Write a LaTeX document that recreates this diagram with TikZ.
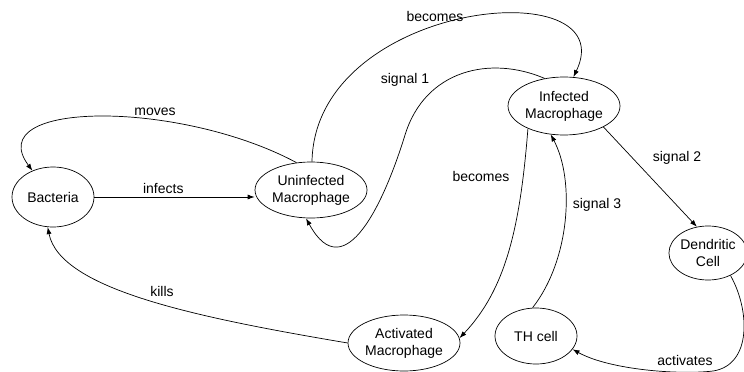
\documentclass[tikz,border=0pt]{standalone}
\usepackage{fontspec}
\setmainfont{Liberation Sans}
\usetikzlibrary{arrows.meta,shapes.geometric}
\begin{document}
\begin{tikzpicture}[x=1pt,y=-1pt,>={Latex[length=7pt,width=5pt]},line width=.7pt,
	every node/.style={font=\fontsize{14}{17}\selectfont},
	cell/.style={ellipse,draw,align=center,inner sep=0pt,minimum height=56pt}]
	\useasboundingbox (0,0) rectangle (744,372);
	\node[cell,minimum width=82pt,minimum height=60pt] (bac) at (53,197) {Bacteria};
	\node[cell,minimum width=112pt] (um) at (311,190) {Uninfected\\Macrophage};
	\node[cell,minimum width=112pt,minimum height=58pt] (im) at (564,106) {Infected\\Macrophage};
	\node[cell,minimum width=112pt] (am) at (404,343) {Activated\\Macrophage};
	\node[cell,minimum width=82pt] (th) at (536,336) {TH cell};
	\node[cell,minimum width=70pt,minimum height=54pt] (dc) at (708,253) {Dendritic\\Cell};
	% edges
	\draw[->] (bac.east) -- (bac.east -| um.west) node[pos=.43,above]{infects};
	\draw[->] (um.118) .. controls (180,100) and (-20,100) .. (bac.128);
	\node (moves) at (155,112) {moves};
	\draw[->] (um.88) .. controls (315,0) and (625,-30) .. (im.72);
	\node (bec1) at (435,16) {becomes};
	\draw[->] (im.125) .. controls (490,55) and (425,70) .. (405,135)
		.. controls (385,200) and (345,290) .. (um.-100);
	\node (sig1) at (405,80) {signal 1};
	\draw[->] (im.-148) .. controls (520,230) and (505,290) .. (am.5);
	\node (bec2) at (481,176) {becomes};
	\draw[->] (th.97) .. controls (570,260) and (575,180) .. (im.-115);
	\node (sig3) at (597,205) {signal 3};
	\draw[->] (im.-28) -- (dc.113);
	\node (sig2) at (677,158) {signal 2};
	\draw[->] (dc.-45) .. controls (750,310) and (752,365) .. (713,371)
		.. controls (680,375) and (610,370) .. (th.-20);
	\node (act) at (685,360) {activates};
	\draw[->] (am.west) .. controls (200,318) and (60,290) .. (bac.-100);
	\node (kills) at (162,291) {kills};
\end{tikzpicture}
\end{document}
